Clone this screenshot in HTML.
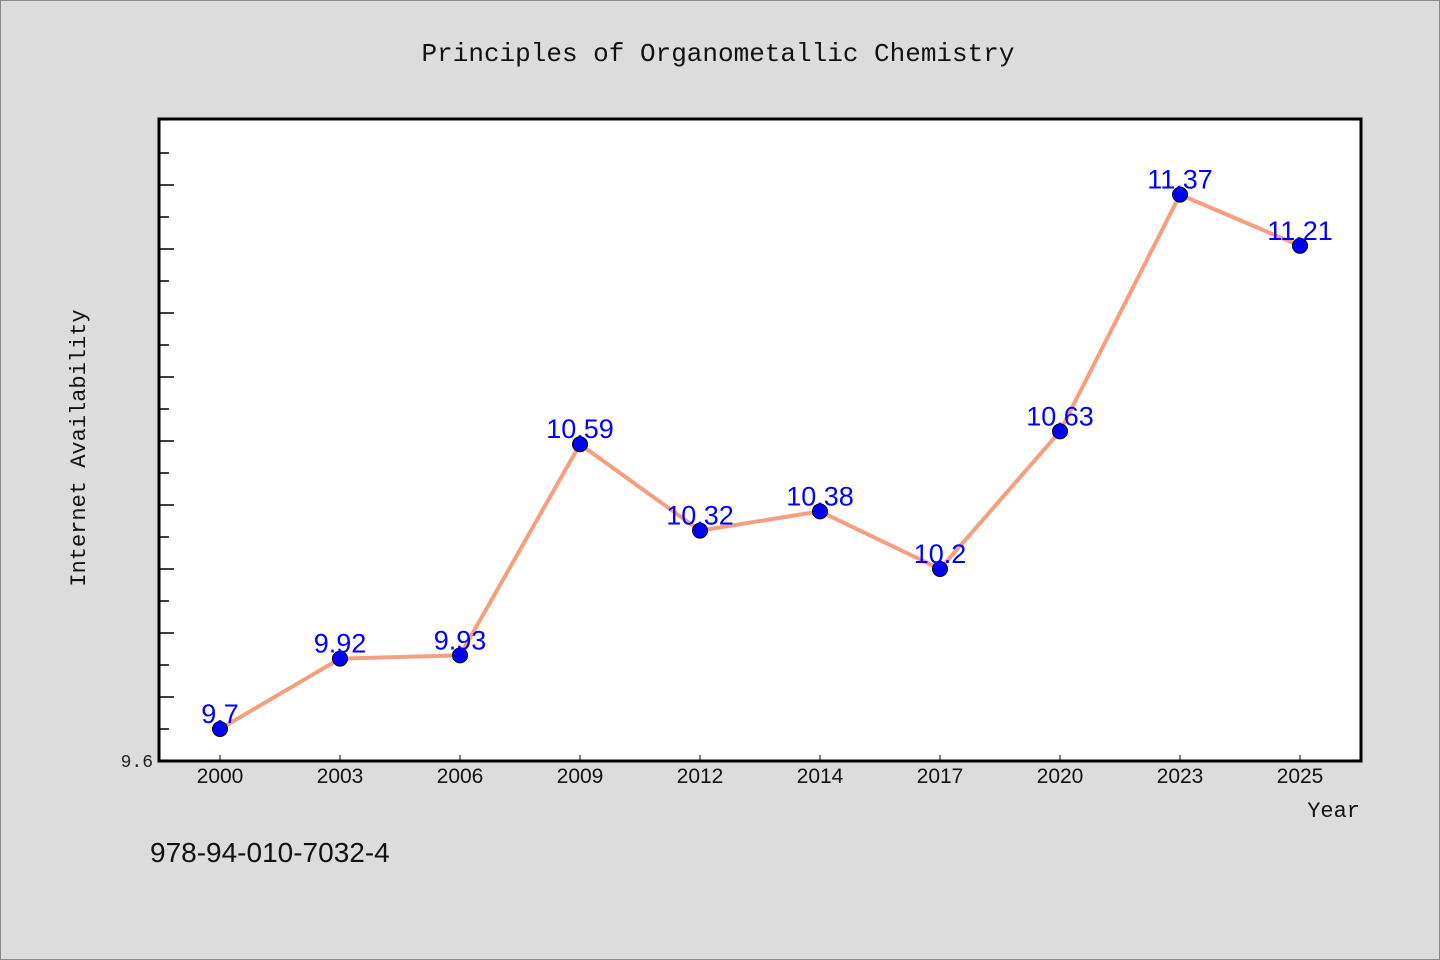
<!DOCTYPE html>
<html><head><meta charset="utf-8"><style>
html,body{margin:0;padding:0;background:#dcdcdc;}
svg{display:block;}
</style></head><body>
<svg width="1440" height="960" viewBox="0 0 1440 960" xmlns="http://www.w3.org/2000/svg">
<rect x="0.5" y="0.5" width="1439" height="959" fill="#dcdcdc" stroke="#888"/>
<text x="718" y="61" text-anchor="middle" font-family="'Liberation Mono','WenQuanYi Zen Hei',monospace" font-size="26" fill="#111">Principles of Organometallic Chemistry</text>
<rect x="159" y="119" width="1202" height="642" fill="#fff"/>
<g id="ticks"></g>
<rect x="159" y="119" width="1202" height="642" fill="none" stroke="#000" stroke-width="3"/>
<text x="153" y="767" text-anchor="end" font-family="'Liberation Mono',monospace" font-size="18" fill="#222">9.6</text>
<text transform="translate(85,448) rotate(-90)" text-anchor="middle" font-family="'Liberation Mono',monospace" font-size="22" fill="#111">Internet Availability</text>
<text x="1360" y="817" text-anchor="end" font-family="'Liberation Mono',monospace" font-size="22" fill="#111">Year</text>
<text x="150" y="862" font-family="'Liberation Sans',sans-serif" font-size="28" fill="#111">978-94-010-7032-4</text>
<g id="xlabels"></g>
<polyline id="line" fill="none" stroke="#f4a07f" stroke-width="4" stroke-linejoin="round"/>
<g id="points"></g>
</svg>
<script>
const categories = ["2000","2003","2006","2009","2012","2014","2017","2020","2023","2025"];
const values = [9.7, 9.92, 9.93, 10.59, 10.32, 10.38, 10.2, 10.63, 11.37, 11.21];
const valueLabels = ["9.7","9.92","9.93","10.59","10.32","10.38","10.2","10.63","11.37","11.21"];
const yMin = 9.6, yMax = 11.6;
const NS = "http://www.w3.org/2000/svg";
const pl = 159, pb = 761;
function xScale(i){ return 220 + i*120; }
function yScale(v){ return pb - (v - yMin) * 320; }
const ticks = document.getElementById('ticks');
for (let k = 1; k <= 19; k++) {
  const v = yMin + k*0.1;
  const t = document.createElementNS(NS,'line');
  const y = yScale(v);
  t.setAttribute('x1', pl); t.setAttribute('x2', pl + (k%2===0 ? 15 : 10));
  t.setAttribute('y1', y); t.setAttribute('y2', y);
  t.setAttribute('stroke', '#000'); t.setAttribute('stroke-width', '1.5');
  
  
  ticks.appendChild(t);
}
const xl = document.getElementById('xlabels');
categories.forEach((c,i)=>{
  const tk = document.createElementNS(NS,'line');
  tk.setAttribute('x1', xScale(i)); tk.setAttribute('x2', xScale(i));
  tk.setAttribute('y1', pb-6); tk.setAttribute('y2', pb);
  tk.setAttribute('stroke', '#000');
  
  
  xl.appendChild(tk);
  const t = document.createElementNS(NS,'text');
  t.setAttribute('x', xScale(i)); t.setAttribute('y', 783);
  t.setAttribute('text-anchor','middle');
  t.setAttribute('font-family',"'Liberation Sans',sans-serif");
  t.setAttribute('font-size','21'); t.setAttribute('fill','#111');
  
  
  t.textContent = c;
  xl.appendChild(t);
});
document.getElementById('line').setAttribute('points', values.map((v,i)=>xScale(i)+','+yScale(v)).join(' '));
const pts = document.getElementById('points');
values.forEach((v,i)=>{
  const c = document.createElementNS(NS,'circle');
  c.setAttribute('cx', xScale(i)); c.setAttribute('cy', yScale(v)); c.setAttribute('r', 7.5);
  c.setAttribute('fill', '#0000ff'); c.setAttribute('stroke', '#000'); c.setAttribute('stroke-width', '1');
  
  
  pts.appendChild(c);
  const t = document.createElementNS(NS,'text');
  t.setAttribute('x', xScale(i)); t.setAttribute('y', yScale(v) - 6);
  t.setAttribute('text-anchor','middle');
  t.setAttribute('font-family',"'Liberation Sans',sans-serif");
  t.setAttribute('font-size','27'); t.setAttribute('fill','#0000ff');
  
  
  t.textContent = valueLabels[i];
  pts.appendChild(t);
});
</script>
</body></html>
